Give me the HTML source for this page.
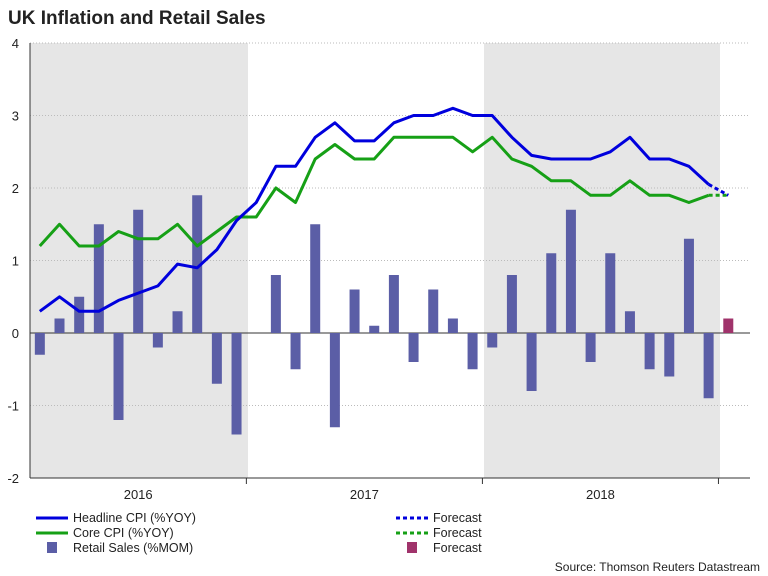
<!DOCTYPE html>
<html><head><meta charset="utf-8"><style>
body{margin:0;background:#fff;font-family:"Liberation Sans",sans-serif;}
svg{display:block}
</style></head><body>
<svg id="chart" width="768" height="576">
<text x="8" y="24" font-size="19" font-weight="bold" fill="#222">UK Inflation and Retail Sales</text>
<rect x="30" y="43" width="218" height="435" fill="#e6e6e6"/>
<rect x="484" y="43" width="236" height="435" fill="#e6e6e6"/>
<g id="grid"></g><g id="bars"></g><g id="lines"></g><g id="axes"></g>
<g font-size="12.5" fill="#222">
<line x1="36" y1="518" x2="68" y2="518" stroke="#0000dd" stroke-width="3"/>
<text x="73" y="522">Headline CPI (%YOY)</text>
<line x1="36" y1="533" x2="68" y2="533" stroke="#16a016" stroke-width="3"/>
<text x="73" y="537">Core CPI (%YOY)</text>
<rect x="47" y="542" width="10" height="11" fill="#5b5ea6"/>
<text x="73" y="552">Retail Sales (%MOM)</text>
<line x1="396" y1="518" x2="428" y2="518" stroke="#0000dd" stroke-width="3" stroke-dasharray="4,3"/>
<text x="433" y="522">Forecast</text>
<line x1="396" y1="533" x2="428" y2="533" stroke="#16a016" stroke-width="3" stroke-dasharray="4,3"/>
<text x="433" y="537">Forecast</text>
<rect x="407" y="542" width="10" height="11" fill="#a0336b"/>
<text x="433" y="552">Forecast</text>
</g>
<text x="760" y="571" font-size="12" fill="#222" text-anchor="end">Source: Thomson Reuters Datastream</text>
</svg>
<script>
const headline=[0.3,0.5,0.3,0.3,0.45,0.55,0.65,0.95,0.9,1.15,1.55,1.8,2.3,2.3,2.7,2.9,2.65,2.65,2.9,3.0,3.0,3.1,3.0,3.0,2.7,2.45,2.4,2.4,2.4,2.5,2.7,2.4,2.4,2.3,2.05];
const headlineForecast=1.9;
const core=[1.2,1.5,1.2,1.2,1.4,1.3,1.3,1.5,1.2,1.4,1.6,1.6,2.0,1.8,2.4,2.6,2.4,2.4,2.7,2.7,2.7,2.7,2.5,2.7,2.4,2.3,2.1,2.1,1.9,1.9,2.1,1.9,1.9,1.8,1.9];
const coreForecast=1.9;
const retail=[-0.3,0.2,0.5,1.5,-1.2,1.7,-0.2,0.3,1.9,-0.7,-1.4,0,0.8,-0.5,1.5,-1.3,0.6,0.1,0.8,-0.4,0.6,0.2,-0.5,-0.2,0.8,-0.8,1.1,1.7,-0.4,1.1,0.3,-0.5,-0.6,1.3,-0.9];
const retailForecast=0.2;
const yTicks=[-2,-1,0,1,2,3,4];
const years=["2016","2017","2018"];
const yearStart=[0,11,23];
const yearEnd=[11,23,35];

const NS="http://www.w3.org/2000/svg";
const X0=30,STEP=19.67;
const x=i=>X0+STEP*(i+0.5);
const xe=i=>X0+STEP*i;
const y=v=>333-v*72.5;
function mk(tag,attrs,parent,text){const e=document.createElementNS(NS,tag);for(const k in attrs)e.setAttribute(k,attrs[k]);if(text!==undefined)e.textContent=text;document.getElementById(parent).appendChild(e);return e;}
yTicks.forEach(t=>{
  if(t!==-2){const g=mk('line',{x1:X0,x2:750,y1:y(t),y2:y(t),stroke:t===0?'#333':'#bbb','stroke-width':1,'stroke-dasharray':t===0?'':'1,2'},'grid');
  
  }
  const l=mk('text',{x:19,y:y(t)+5,'font-size':13,'text-anchor':'end',fill:'#222'},'axes',String(t));
  
  
});
retail.forEach((v,i)=>{
  if(v===0)return;
  const r=mk('rect',{x:x(i)-5,width:10,y:Math.min(y(v),y(0)),height:Math.abs(y(v)-y(0)),fill:'#5b5ea6'},'bars');
  
  
});
{const n=retail.length;const r=mk('rect',{x:x(n)-5,width:10,y:Math.min(y(retailForecast),y(0)),height:Math.abs(y(retailForecast)-y(0)),fill:'#a0336b'},'bars');

}
function line(arr,fc,col,name){
  const p=arr.map((v,i)=>x(i).toFixed(1)+','+y(v).toFixed(1)).join(' ');
  const l=mk('polyline',{points:p,fill:'none',stroke:col,'stroke-width':3,'stroke-linejoin':'round'},'lines');
  
  
  const n=arr.length;
  const f=mk('line',{x1:x(n-1),y1:y(arr[n-1]),x2:x(n),y2:y(fc),stroke:col,'stroke-width':3,'stroke-dasharray':'4,3'},'lines');
  
  
}
line(core,coreForecast,'#16a016','core-cpi');
line(headline,headlineForecast,'#0000dd','headline-cpi');
const ax=mk('line',{x1:X0,x2:750,y1:478,y2:478,stroke:'#333'},'axes');


const ya=mk('line',{x1:X0,x2:X0,y1:43,y2:478,stroke:'#333'},'axes');


years.forEach((yr,k)=>{
  const t=mk('text',{x:(xe(yearStart[k])+xe(yearEnd[k]))/2,y:499,'font-size':13,'text-anchor':'middle',fill:'#222'},'axes',yr);
  
  
  const s=mk('line',{x1:xe(yearEnd[k]),x2:xe(yearEnd[k]),y1:478,y2:484,stroke:'#333'},'axes');
  
  
});
</script>
</body></html>
